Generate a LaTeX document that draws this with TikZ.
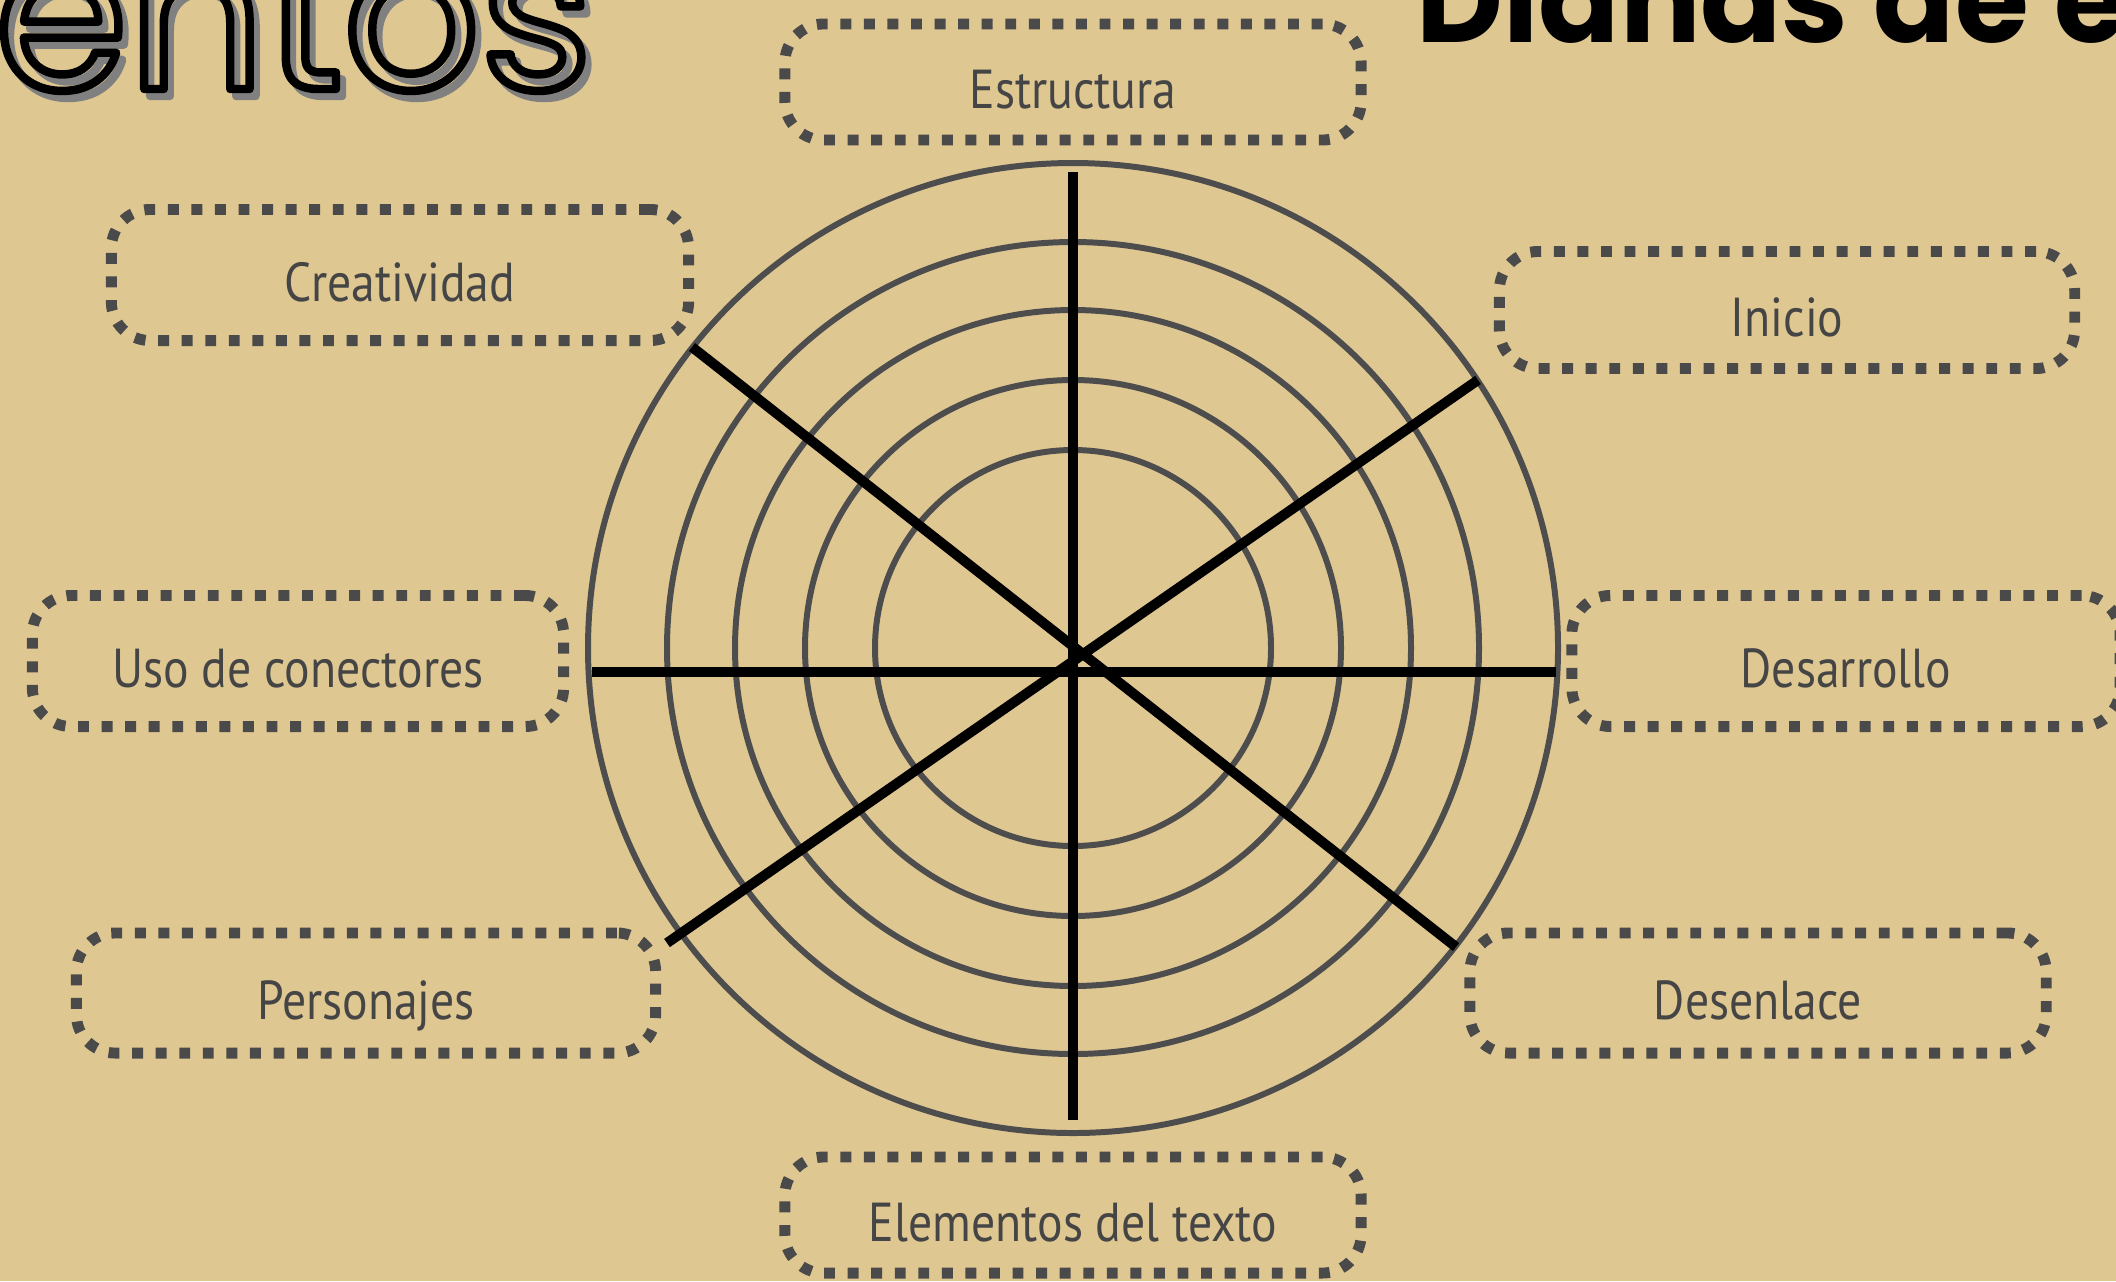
\documentclass[tikz,border=0pt]{standalone}
\usepackage{fontspec}
\setmainfont{PT Sans}
\newfontfamily\lblfont{PT Sans}[FakeStretch=0.87]
\newfontfamily\popfont{Poppins}
\definecolor{bg}{HTML}{DFC792}
\definecolor{ringgray}{HTML}{4D4D4D}
\definecolor{dotgray}{HTML}{4A4A4A}
\definecolor{txtgray}{HTML}{454545}
\definecolor{shadowgray}{HTML}{808080}
\newcommand\outlon{\special{pdf:literal direct 1 Tr 2.4 w 1 j}}
\newcommand\outloff{\special{pdf:literal direct 0 Tr}}
\tikzset{
  ring/.style={draw=ringgray, line width=1.7pt},
  spoke/.style={draw=black, line width=2.85pt, line cap=butt},
  lbl/.style={draw=dotgray, line width=3.1pt, dash pattern=on 3.1pt off 3.6pt,
    rounded corners=11pt, rectangle, inner sep=0pt, text=txtgray,
    text height=14.8pt, text depth=0pt,
    font=\lblfont\fontsize{15.6}{18}\selectfont},
}
\begin{document}
\begin{tikzpicture}[x=0.01cm,y=-0.01cm]
\useasboundingbox (0,0) rectangle (2116,1281);
\fill[bg] (0,0) rectangle (2116,1281);
% target rings
\coordinate (c) at (1073,648);
\foreach \r in {485,406,338,268,198} {\draw[ring] (c) circle[radius=\r];}
% spokes
\coordinate (sn) at (1073,172);
\coordinate (ss) at (1073,1120);
\coordinate (sw) at (592,672);
\coordinate (se) at (1556,672);
\coordinate (snw) at (692,347);
\coordinate (sse) at (1456,947);
\coordinate (sne) at (1478,380);
\coordinate (ssw) at (667,943);
\draw[spoke] (sn) -- (ss);
\draw[spoke] (sw) -- (se);
\draw[spoke] (snw) -- (sse);
\draw[spoke] (sne) -- (ssw);
% labels
\node[lbl, minimum width=5.76cm, minimum height=1.16cm] (est) at (1073,82) {Estructura};
\node[lbl, minimum width=5.77cm, minimum height=1.31cm] (cre) at (400,275) {Creatividad};
\node[lbl, minimum width=5.75cm, minimum height=1.17cm] (ini) at (1787,310) {Inicio};
\node[lbl, minimum width=5.31cm, minimum height=1.31cm] (uso) at (298,661) {Uso de conectores};
\node[lbl, minimum width=5.48cm, minimum height=1.31cm] (des) at (1846,661) {Desarrollo};
\node[lbl, minimum width=5.79cm, minimum height=1.20cm] (per) at (366,993) {Personajes};
\node[lbl, minimum width=5.76cm, minimum height=1.20cm] (den) at (1758,993) {Desenlace};
\node[lbl, minimum width=5.76cm, minimum height=1.16cm] (ele) at (1073,1215) {Elementos del texto};
% titles
\node[anchor=base west, inner sep=0pt, text=shadowgray] (tshadow) at (0,96)
  {\outlon\popfont\fontsize{61}{61}\selectfont entos\outloff};
\node[anchor=base west, inner sep=0pt, text=black] (tleft) at (-6,89)
  {\outlon\popfont\fontsize{61}{61}\selectfont entos\outloff};
\node[anchor=base west, inner sep=0pt, text=black] (tright) at (1416,42)
  {\popfont\bfseries\fontsize{34}{34}\selectfont Dianas de e};
\end{tikzpicture}
\end{document}
